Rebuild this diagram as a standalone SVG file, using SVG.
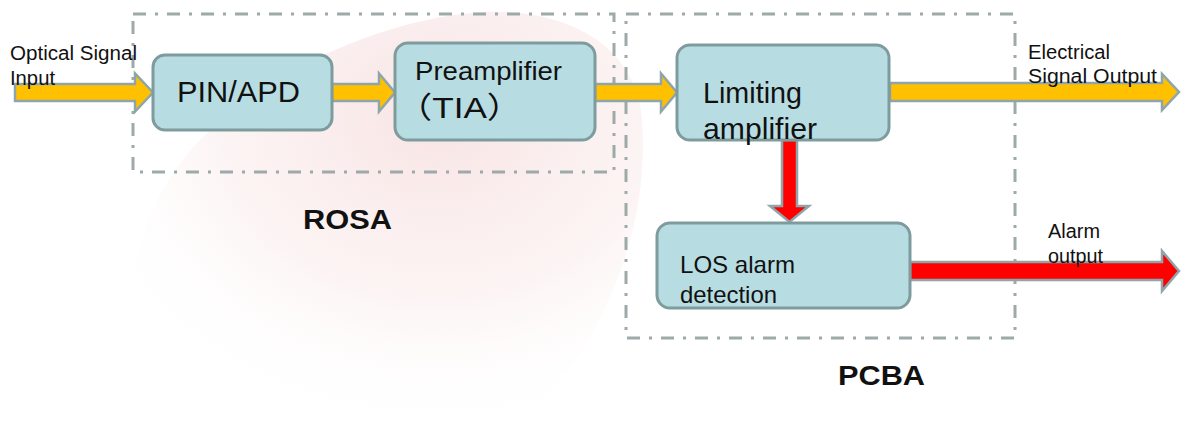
<svg xmlns="http://www.w3.org/2000/svg" width="1181" height="435" viewBox="0 0 1181 435">
  <defs>
    <radialGradient id="blob" cx="0.6" cy="0.25" r="0.75">
      <stop offset="0" stop-color="#f4d2d2" stop-opacity="0.6"/>
      <stop offset="0.55" stop-color="#f9e6e6" stop-opacity="0.45"/>
      <stop offset="1" stop-color="#ffffff" stop-opacity="0"/>
    </radialGradient>
    <style>
      .grp { fill: none; stroke: #9eaaa9; stroke-width: 3; stroke-dasharray: 13 9 3 9; }
      .box { fill: #b7dde2; stroke: #7e9b9d; stroke-width: 3; }
      .ya { fill: #ffc000; stroke: #8ea6ab; stroke-width: 2.5; }
      .ra { fill: #ff0000; stroke: #8ea6ab; stroke-width: 2.5; }
      text { font-family: "Liberation Sans", Arial, "Noto Sans CJK SC", sans-serif; fill: #111; }
      .big { font-size: 30px; }
      .mid { font-size: 24px; }
      .sm { font-size: 20px; }
      .ttl { font-size: 27px; font-weight: bold; }
    </style>
  </defs>
  <rect width="1181" height="435" fill="#ffffff"/>
  <path d="M150,430 C110,330 130,210 200,140 C270,70 380,20 480,12 C560,8 635,40 642,120 C650,220 610,330 540,405 C470,440 230,445 150,430 Z" fill="url(#blob)"/>

  <g id="group-rosa">
    <rect class="grp" x="133" y="14" width="481" height="158"/>
    <text class="ttl" x="303" y="229" textLength="89" lengthAdjust="spacingAndGlyphs">ROSA</text>
  </g>
  <g id="group-pcba">
    <rect class="grp" x="626" y="14" width="389" height="324"/>
    <text class="ttl" x="838" y="385" textLength="87" lengthAdjust="spacingAndGlyphs">PCBA</text>
  </g>

  <g id="connectors">
    <polygon class="ya" points="15,84 135,84 135,73.5 153,92.5 135,111.5 135,101 15,101"/>
    <polygon class="ya" points="332,84 379,84 379,73.5 395,92.5 379,111.5 379,101 332,101"/>
    <polygon class="ya" points="595,84 661,84 661,73.5 677,92.5 661,111.5 661,101 595,101"/>
    <polygon class="ya" points="890,83 1162,83 1162,74 1179,92 1162,110 1162,101 890,101"/>
    <polygon class="ra" points="782,140 797,140 797,206 809,206 789.5,222 770,206 782,206"/>
    <polygon class="ra" points="910,262 1162,262 1162,251 1179,271 1162,291 1162,280 910,280"/>
  </g>

  <g id="node-pin">
    <rect class="box" x="153" y="55" width="179" height="75" rx="12"/>
    <text class="big" x="177" y="102" textLength="123" lengthAdjust="spacingAndGlyphs">PIN/APD</text>
  </g>
  <g id="node-tia">
    <rect class="box" x="395" y="43" width="200" height="97" rx="13"/>
    <text x="415" y="80" font-size="25" textLength="147" lengthAdjust="spacingAndGlyphs">Preamplifier</text>
    <text class="big" x="397" y="118" textLength="125" lengthAdjust="spacingAndGlyphs">（TIA）</text>
  </g>
  <g id="node-la">
    <rect class="box" x="677" y="45" width="212" height="95" rx="13"/>
    <text x="703" y="103" font-size="29" textLength="99" lengthAdjust="spacingAndGlyphs">Limiting</text>
    <text x="703" y="139" font-size="29" textLength="114" lengthAdjust="spacingAndGlyphs">amplifier</text>
  </g>
  <g id="node-los">
    <rect class="box" x="657" y="223" width="253" height="85" rx="13"/>
    <text class="mid" x="680" y="273" textLength="115" lengthAdjust="spacingAndGlyphs">LOS alarm</text>
    <text class="mid" x="680" y="303" textLength="97" lengthAdjust="spacingAndGlyphs">detection</text>
  </g>

  <g id="labels">
    <text class="sm" x="10" y="60" textLength="127" lengthAdjust="spacingAndGlyphs">Optical Signal</text>
    <text class="sm" x="10" y="85" textLength="45" lengthAdjust="spacingAndGlyphs">Input</text>
    <text class="sm" x="1028" y="59" textLength="82" lengthAdjust="spacingAndGlyphs">Electrical</text>
    <text class="sm" x="1028" y="83" textLength="129" lengthAdjust="spacingAndGlyphs">Signal Output</text>
    <text class="sm" x="1048" y="238" textLength="52" lengthAdjust="spacingAndGlyphs">Alarm</text>
    <text class="sm" x="1048" y="263" textLength="55" lengthAdjust="spacingAndGlyphs">output</text>
  </g>
</svg>
